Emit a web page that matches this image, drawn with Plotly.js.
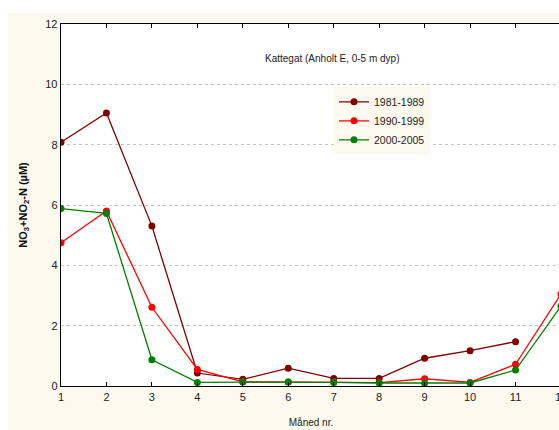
<!DOCTYPE html>
<html>
<head>
<meta charset="utf-8">
<script src="https://cdn.plot.ly/plotly-3.0.1.min.js"></script>
<style>
html,body{margin:0;padding:0;background:#ffffff;overflow:hidden;width:559px;height:430px;}
#chart{position:absolute;left:8px;top:13px;width:570px;height:417px;}
</style>
</head>
<body>
<div id="chart"></div>
<script>
const months = [1,2,3,4,5,6,7,8,9,10,11,12];
const s1981 = [8.08,9.05,5.3,0.43,0.22,0.59,0.25,0.25,0.92,1.17,1.47,null];
const s1990 = [4.75,5.8,2.61,0.55,0.14,0.13,0.13,0.11,0.24,0.12,0.72,3.05];
const s2000 = [5.88,5.72,0.87,0.12,0.13,0.13,0.12,0.1,0.09,0.1,0.53,2.65];
const seriesNames = ['1981-1989','1990-1999','2000-2005'];
const colors = ['#800000','#ff0000','#008000'];
const xTicks = [1,2,3,4,5,6,7,8,9,10,11,12];
const yTicks = [0,2,4,6,8,10,12];

const font = 'Liberation Sans, Arial, sans-serif';
const traces = [s1981,s1990,s2000].map((ys,i)=>({
  x: months, y: ys, name: seriesNames[i], type:'scatter', mode:'lines+markers',
  line:{color:colors[i], width:1.3}, marker:{color:colors[i], size:7},
  connectgaps:false, cliponaxis:true
}));

const layout = {
  width:570, height:417,
  margin:{l:53, r:17, t:11, b:44, autoexpand:false},
  paper_bgcolor:'#fdf9ef', plot_bgcolor:'#ffffff',
  font:{family:font, size:11, color:'#222'},
  showlegend:true,
  legend:{x:0.546, y:0.825, xanchor:'left', yanchor:'top', bgcolor:'#fdf9ef',
    font:{family:font, size:10.5, color:'#222'}, itemwidth:30, tracegroupgap:0},
  xaxis:{range:[1,12], tickvals:xTicks, ticks:'inside', ticklen:4, tickcolor:'#000',
    showline:true, linecolor:'#000', linewidth:1.3, mirror:'ticks', showgrid:false, zeroline:false,
    tickfont:{size:11, color:'#222'}, ticklabeloverflow:'allow',
    title:{text:'Måned nr.', font:{size:10, color:'#222'}, standoff:17}},
  yaxis:{range:[0,12], tickvals:yTicks, ticks:'', showline:true, linecolor:'#000', linewidth:1.3,
    showgrid:true, gridcolor:'#c4c4c4', griddash:'dot', gridwidth:1, zeroline:false,
    tickfont:{size:11, color:'#222'},
    title:{text:'<b>NO<sub>3</sub>+NO<sub>2</sub>-N (µM)</b>', font:{size:11, color:'#111'}, standoff:15}},
  annotations:[{text:'Kattegat (Anholt E, 0-5 m dyp)', xref:'paper', yref:'paper',
    x:0.542, y:0.905, xanchor:'center', yanchor:'middle', showarrow:false,
    font:{size:10, color:'#222', family:font}}]
};
Plotly.newPlot('chart', traces, layout, {displayModeBar:false, staticPlot:true});
</script>
</body>
</html>
